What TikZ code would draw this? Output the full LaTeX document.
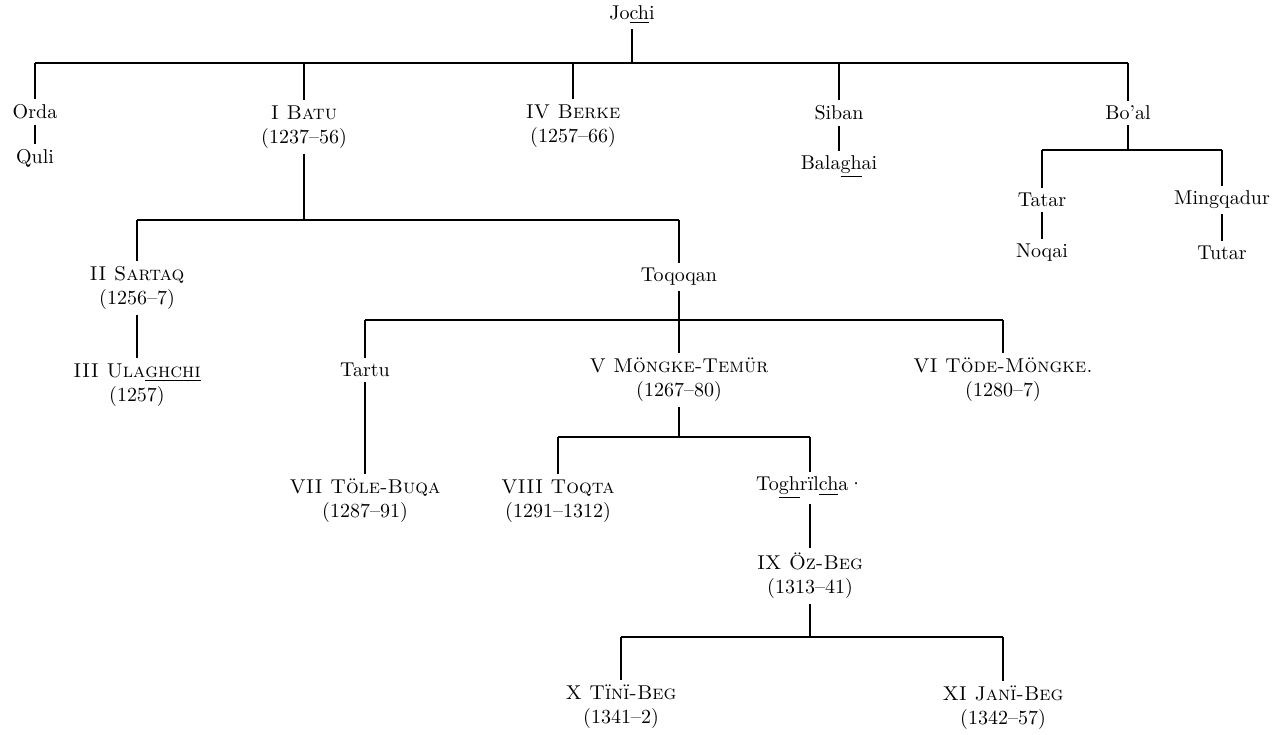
\documentclass[tikz,border=0pt]{standalone}
\usepackage{fontspec}
\newcommand\ud[1]{\underline{#1}}
\begin{document}
\begin{tikzpicture}[x=0.5pt,y=-0.5pt,
  every node/.style={inner xsep=0pt, inner ysep=2.5pt, align=center, font=\fontsize{10}{12}\selectfont},
  conn/.style={line width=0.75pt}]
\useasboundingbox (0,0) rectangle (1274,734);
% nodes
\node (jochi) at (632,15) {Jo\ud{ch}i};
\node (orda) at (35,112) {Orda};
\node (quli) at (35,158) {Quli};
\node (batu) at (304,127) {\textsc{I Batu}\\(1237--56)};
\node (berke) at (573,126) {\textsc{IV Berke}\\(1257--66)};
\node (siban) at (839,113) {Siban};
\node (balaghai) at (839,167) {Bala\ud{gh}ai};
\node (boal) at (1128,113) {Bo’al};
\node (tatar) at (1042,200) {Tatar};
\node (noqai) at (1042,253) {Noqai};
\node (mingq) at (1222,200) {Mingqadur};
\node (tutar) at (1222,253) {Tutar};
\node (sartaq) at (137,288) {\textsc{II Sartaq}\\(1256--7)};
\node (toqoqan) at (679,277) {Toqoqan};
\node (ulaghchi) at (137,385) {\textsc{III Ula\ud{ghchi}}\\(1257)};
\node (tartu) at (365,370) {Tartu};
\node (mongke) at (679,380) {\textsc{V Möngke-Temür}\\(1267--80)};
\node (tode) at (1003,380) {\textsc{VI Töde-Möngke.}\\(1280--7)};
\node (tole) at (365,501) {\textsc{VII Töle-Buqa}\\(1287--91)};
\node (toqta) at (558,501) {\textsc{VIII Toqta}\\(1291--1312)};
\node (toghril) at (810,488) {To\ud{gh}rïl\ud{ch}a·};
\node (ozbeg) at (810,576) {\textsc{IX Öz-Beg}\\(1313--41)};
\node (tini) at (621,707) {\textsc{X Tïnï-Beg}\\(1341--2)};
\node (jani) at (1003,708) {\textsc{XI Janï-Beg}\\(1342--57)};
% bar levels
\coordinate (yTop) at (0,63);
\coordinate (yBoal) at (0,150);
\coordinate (yBatu) at (0,220);
\coordinate (yToq) at (0,320);
\coordinate (yMon) at (0,437);
\coordinate (yOz) at (0,637);
% Jochi
\draw[conn] (jochi.south) -- (jochi.south |- yTop);
\draw[conn] (orda.north |- yTop) -- (boal.north |- yTop);
\foreach \c in {orda,batu,berke,siban,boal} \draw[conn] (\c.north |- yTop) -- (\c.north);
\draw[conn] (orda) -- (quli);
\draw[conn] (siban) -- (balaghai);
% Bo'al
\draw[conn] (boal.south) -- (boal.south |- yBoal);
\draw[conn] (tatar.north |- yBoal) -- (mingq.north |- yBoal);
\foreach \c in {tatar,mingq} \draw[conn] (\c.north |- yBoal) -- (\c.north);
\draw[conn] (tatar) -- (noqai);
\draw[conn] (mingq) -- (tutar);
% Batu
\draw[conn] (batu.south) -- (batu.south |- yBatu);
\draw[conn] (sartaq.north |- yBatu) -- (toqoqan.north |- yBatu);
\foreach \c in {sartaq,toqoqan} \draw[conn] (\c.north |- yBatu) -- (\c.north);
\draw[conn] (sartaq) -- (ulaghchi);
% Toqoqan
\draw[conn] (toqoqan) -- (mongke);
\draw[conn] (tartu.north |- yToq) -- (tode.north |- yToq);
\foreach \c in {tartu,tode} \draw[conn] (\c.north |- yToq) -- (\c.north);
\draw[conn] (tartu) -- (tole);
% Mongke-Temur
\draw[conn] (mongke.south) -- (mongke.south |- yMon);
\draw[conn] (toqta.north |- yMon) -- (toghril.north |- yMon);
\foreach \c in {toqta,toghril} \draw[conn] (\c.north |- yMon) -- (\c.north);
\draw[conn] (toghril) -- (ozbeg);
% Oz-Beg
\draw[conn] (ozbeg.south) -- (ozbeg.south |- yOz);
\draw[conn] (tini.north |- yOz) -- (jani.north |- yOz);
\foreach \c in {tini,jani} \draw[conn] (\c.north |- yOz) -- (\c.north);
\end{tikzpicture}
\end{document}
